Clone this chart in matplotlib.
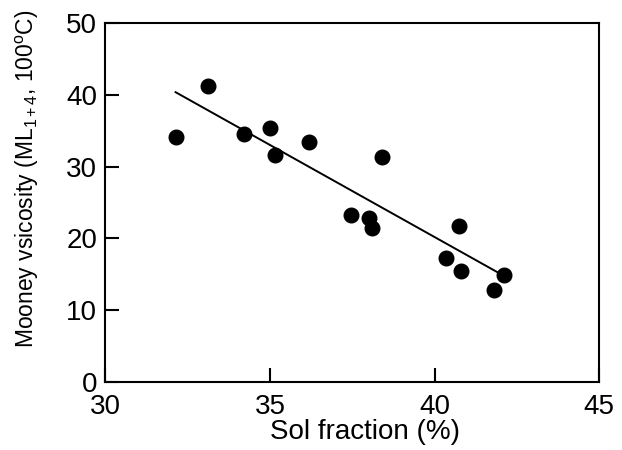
"""
Mooney viscosity versus sol fraction, with a straight-line fit.
"""
import matplotlib
matplotlib.use("Agg")
import matplotlib.pyplot as plt

plt.rcParams["font.family"] = ["Liberation Sans", "DejaVu Sans"]
plt.rcParams["mathtext.fontset"] = "custom"
plt.rcParams["mathtext.rm"] = "Liberation Sans"
plt.rcParams["mathtext.it"] = "Liberation Sans:italic"

sol_fraction = [32.15, 33.13, 34.2, 35.0, 35.15, 36.18, 38.39, 37.47, 38.01,
                38.1, 40.75, 40.35, 40.8, 42.1, 41.82]
mooney = [34.1, 41.3, 34.5, 35.4, 31.7, 33.4, 31.3, 23.2, 22.9,
          21.5, 21.7, 17.3, 15.4, 14.9, 12.8]

# end points of the fitted line
fit_x = [32.13, 41.9]
fit_y = [40.4, 15.3]

x_ticks = [30, 35, 40, 45]
y_ticks = [0, 10, 20, 30, 40, 50]

fig = plt.figure(figsize=(6.22, 4.5), dpi=100)
ax = fig.add_axes([0.1696, 0.152, 0.7935, 0.796])

ax.plot(fit_x, fit_y, color="black", lw=1.4)
ax.plot(sol_fraction, mooney, "o", color="black", ms=10.5, mec="black")

ax.set_xlim(30, 45)
ax.set_ylim(0, 50)
ax.set_xticks(x_ticks)
ax.set_yticks(y_ticks)
ax.tick_params(direction="in", length=10, width=1.5, labelsize=20,
               top=False, right=False)
ax.tick_params(axis="x", pad=9)
ax.tick_params(axis="y", pad=6)
for side in ax.spines.values():
    side.set_linewidth(1.5)

ax.set_xlabel("Sol fraction (%)", fontsize=20)
ax.set_ylabel(r"Mooney vsicosity (ML$_{1+4}$, 100$^{\rm o}$C)", fontsize=16.5)
ax.xaxis.set_label_coords(0.526, -0.142)
ax.yaxis.set_label_coords(-0.158, 0.567)
ax.xaxis.label.set_va("center")
ax.yaxis.label.set_va("center")

plt.savefig("out.png", dpi=100)
